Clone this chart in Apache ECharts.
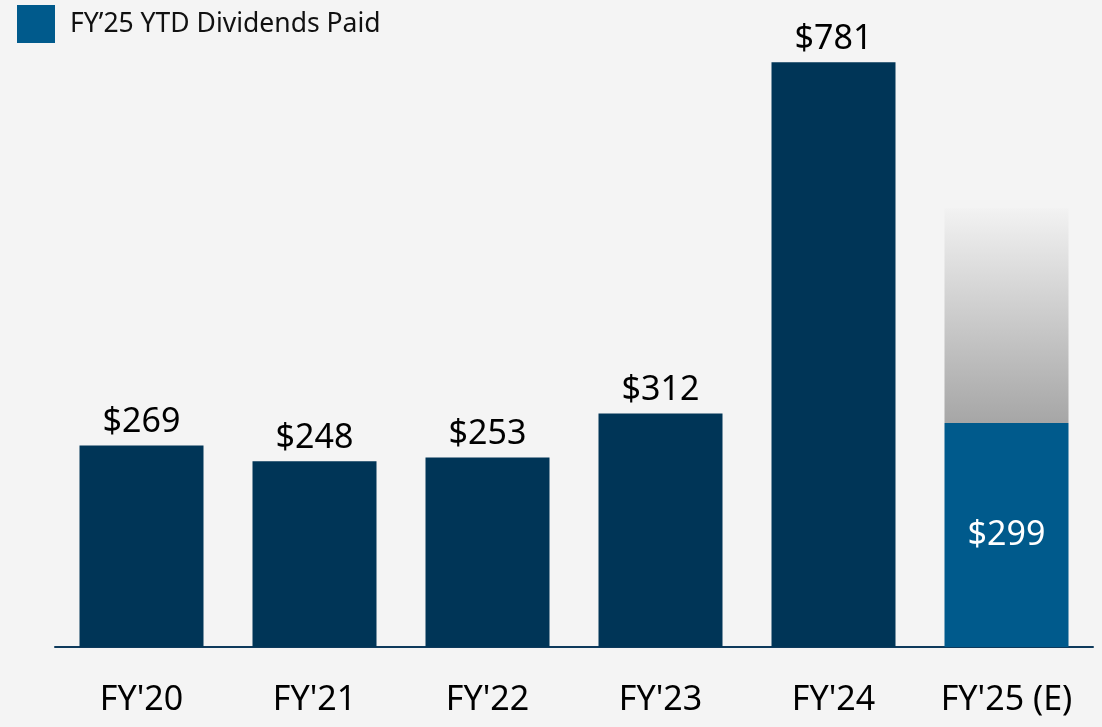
<!DOCTYPE html>
<html>
<head>
<meta charset="utf-8">
<script src="https://cdn.jsdelivr.net/npm/echarts@6/dist/echarts.min.js"></script>
<style>
  html, body { margin: 0; padding: 0; background: #f4f4f4; }
  #main { width: 1102px; height: 727px; }
</style>
</head>
<body>
<div id="main"></div>
<script>
var categories = ["FY'20", "FY'21", "FY'22", "FY'23", "FY'24", "FY'25 (E)"];
var paid = [269, 248, 253, 312, 781, '-'];
var ytd = ['-', '-', '-', '-', '-', 299];
var remaining = ['-', '-', '-', '-', '-', 287];   // unlabeled estimate, read off the gray block

var font = 'Noto Sans';
var navy = '#003557';
var blue = '#005a8c';

var chart = echarts.init(document.getElementById('main'));

var option = {
  backgroundColor: '#f4f4f4',
  animation: false,
  textStyle: { fontFamily: font },
  legend: {
    data: ['FY’25 YTD Dividends Paid'],
    left: 17,
    top: 5,
    padding: 0,
    itemWidth: 38,
    itemHeight: 38,
    icon: 'rect',
    textStyle: { fontSize: 26.5, color: '#111', padding: [0, 0, 0, 10], fontFamily: font }
  },
  grid: { left: 55, right: 9, top: 48, bottom: 80 },
  xAxis: {
    type: 'category',
    data: categories,
    axisLine: { lineStyle: { color: '#0e3a5c', width: 2 } },
    axisTick: { show: false },
    axisLabel: { fontSize: 34, color: '#000', margin: 36, fontFamily: font }
  },
  yAxis: {
    type: 'value',
    min: 0,
    max: 800,
    show: false,
    splitLine: { show: false }
  },
  series: [
    {
      name: 'Dividends',
      type: 'bar',
      stack: 'a',
      barWidth: 124,
      data: paid,
      itemStyle: { color: navy },
      label: { show: true, position: 'top', distance: 6, fontSize: 34, color: '#000', formatter: '${c}' }
    },
    {
      name: 'FY’25 YTD Dividends Paid',
      type: 'bar',
      stack: 'a',
      barWidth: 124,
      data: ytd,
      itemStyle: { color: blue },
      label: { show: true, position: 'inside', fontSize: 34, color: '#fff', formatter: '${c}' }
    },
    {
      name: 'Estimate',
      type: 'bar',
      stack: 'a',
      barWidth: 124,
      data: remaining,
      itemStyle: {
        color: new echarts.graphic.LinearGradient(0, 0, 0, 1, [
          { offset: 0, color: '#f2f2f2' },
          { offset: 1, color: '#a6a6a6' }
        ])
      }
    }
  ]
};

chart.setOption(option);
</script>
</body>
</html>
